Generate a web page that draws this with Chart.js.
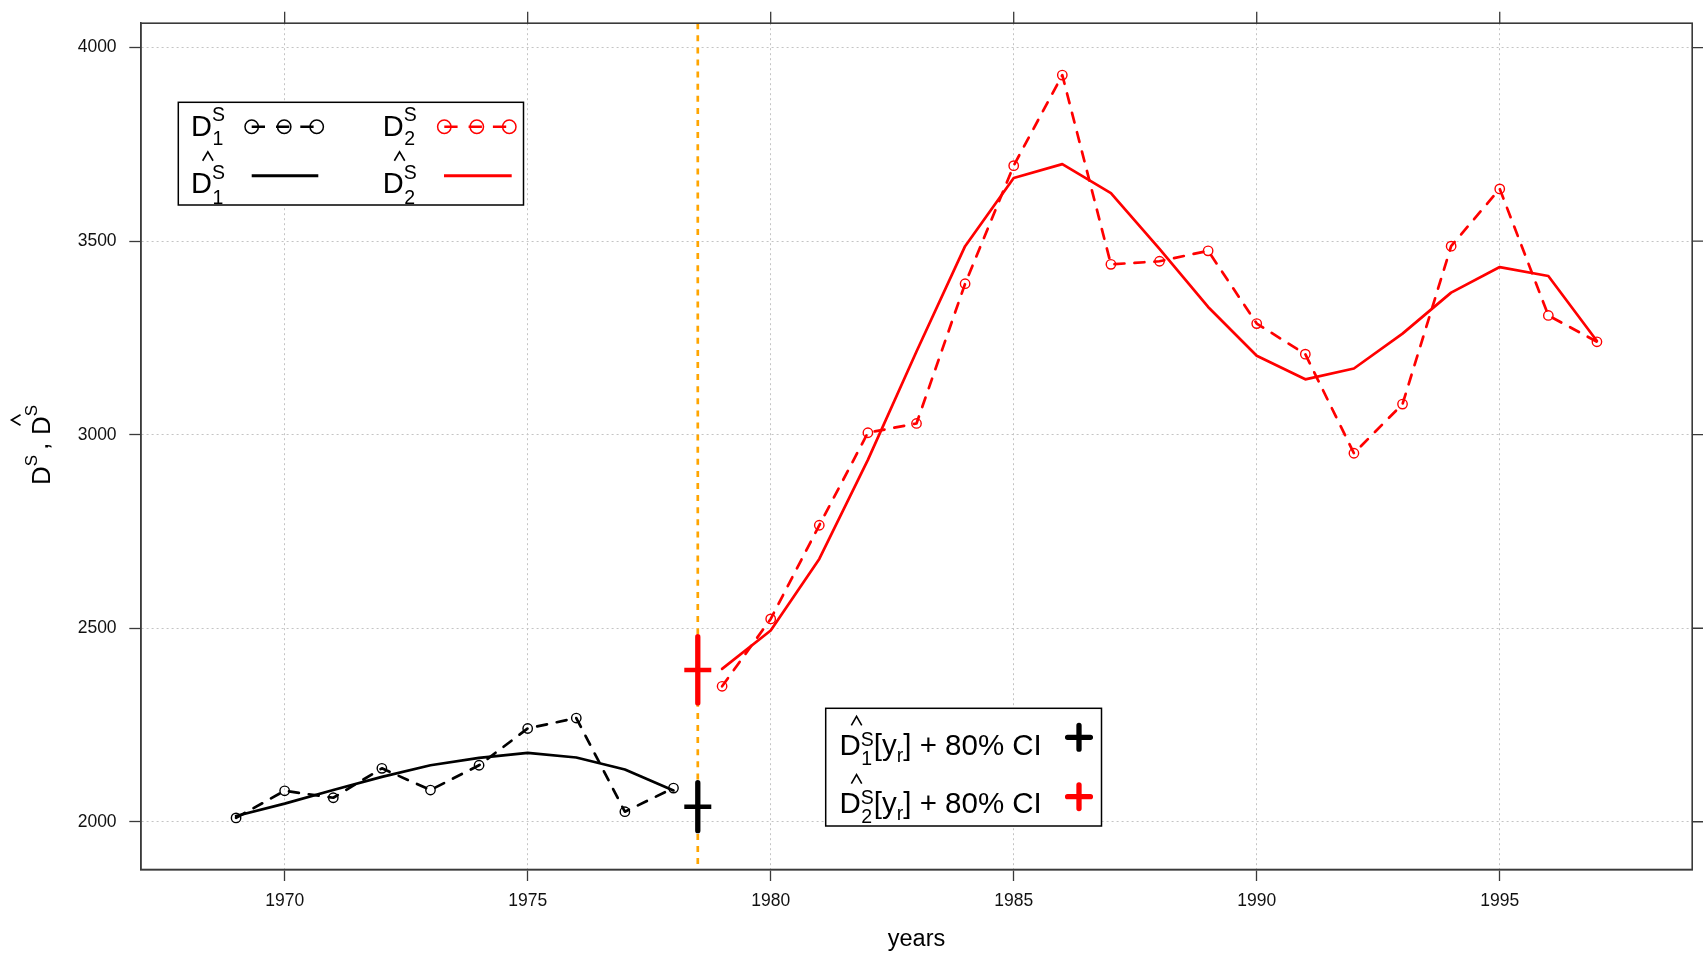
<!DOCTYPE html>
<html>
<head>
<meta charset="utf-8">
<script src="https://cdn.jsdelivr.net/npm/chart.js@4.4.1/dist/chart.umd.min.js"></script>
<style>
html,body{margin:0;padding:0;background:#fff;overflow:hidden}
canvas{display:block}
</style>
</head>
<body>
<canvas id="c" width="1703" height="954"></canvas>
<script>
// ---------- data ----------
const years1 = [1969, 1970, 1971, 1972, 1973, 1974, 1975, 1976, 1977, 1978];
const d1Obs  = [2010, 2080, 2062, 2138, 2082, 2146, 2241, 2268, 2026, 2087];
const d1Fit  = [2015, 2047, 2082, 2116, 2146, 2165, 2178, 2166, 2135, 2081];

const years2 = [1979, 1980, 1981, 1982, 1983, 1984, 1985, 1986, 1987, 1988,
                1989, 1990, 1991, 1992, 1993, 1994, 1995, 1996, 1997];
const d2Obs  = [2350, 2524, 2766, 3005, 3029, 3390, 3695, 3929, 3440, 3448,
                3475, 3287, 3208, 2952, 3079, 3487, 3635, 3308, 3240];
const d2Fit  = [2395, 2494, 2679, 2935, 3215, 3487, 3663, 3699, 3624, 3480,
                3330, 3204, 3143, 3171, 3261, 3367, 3433, 3410, 3242];

const ciYear = 1978.5;
const ci1 = [1977, 2039, 2101];   // lower, estimate, upper
const ci2 = [2307, 2392, 2478];

const xTicks = [1970, 1975, 1980, 1985, 1990, 1995];
const yTicks = [2000, 2500, 3000, 3500, 4000];
const xRange = [1967.04, 1998.96];
const yRange = [1876.7, 4063];

// ---------- styling ----------
const FONT = '"Liberation Sans", Arial, Helvetica, sans-serif';
const BORDER = '#3a3a3a';
const GRID = '#c4c4c4';
const TICK = 11.5;
const RED = '#ff0000';
const ORANGE = '#ffa500';

const pts = (xs, ys) => xs.map((x, i) => ({x: x, y: ys[i]}));

const obsStyle = (color) => ({
  borderColor: color, borderWidth: 2.7, borderDash: [10, 10],
  borderCapStyle: 'round', borderJoinStyle: 'round',
  pointStyle: 'circle', pointRadius: 4.7, pointBorderWidth: 1.4,
  pointBorderColor: color, pointBackgroundColor: 'rgba(0,0,0,0)',
  tension: 0, fill: false
});
const fitStyle = (color) => ({
  borderColor: color, borderWidth: 2.7, borderCapStyle: 'round',
  borderJoinStyle: 'round', pointRadius: 0, tension: 0, fill: false
});

// ---------- helpers for the math-like labels ----------
function hat(ctx, cx, bottom) {
  ctx.beginPath();
  ctx.moveTo(cx - 5.2, bottom);
  ctx.lineTo(cx, bottom - 9);
  ctx.lineTo(cx + 5.2, bottom);
  ctx.lineWidth = 1.6;
  ctx.lineJoin = 'miter';
  ctx.stroke();
}
function mathD(ctx, x, base, sub, o) {
  ctx.font = o.size + 'px ' + FONT;
  ctx.fillText('D', x, base);
  const wD = ctx.measureText('D').width;
  if (o.hat) hat(ctx, x + 0.8 * wD, base - 0.716 * o.size - o.hatGap);
  ctx.font = o.small + 'px ' + FONT;
  ctx.fillText('S', x + wD, base + o.supDy);
  ctx.fillText(sub, x + wD + 0.5, base + o.subDy);
  return x + wD + Math.max(ctx.measureText('S').width, ctx.measureText(sub).width + 0.5);
}
function cross(ctx, cx, cy, color) {
  ctx.beginPath();
  ctx.moveTo(cx - 11.4, cy); ctx.lineTo(cx + 11.4, cy);
  ctx.moveTo(cx, cy - 11.9); ctx.lineTo(cx, cy + 11.9);
  ctx.strokeStyle = color; ctx.lineWidth = 5.3; ctx.lineCap = 'round';
  ctx.stroke();
}

const decor = {
  id: 'decor',
  beforeDraw(chart) {
    const ctx = chart.ctx;
    ctx.save(); ctx.fillStyle = '#fff'; ctx.fillRect(0, 0, chart.width, chart.height); ctx.restore();
  },
  afterDraw(chart) {
    const ctx = chart.ctx, a = chart.chartArea, xs = chart.scales.x, ys = chart.scales.y;
    ctx.save();
    // plot frame
    ctx.strokeStyle = BORDER; ctx.lineWidth = 1.6;
    ctx.strokeRect(a.left, a.top, a.right - a.left, a.bottom - a.top);
    // top and right tick marks
    ctx.beginPath();
    xTicks.forEach(v => { const p = xs.getPixelForValue(v); ctx.moveTo(p, a.top); ctx.lineTo(p, a.top - TICK); });
    yTicks.forEach(v => { const p = ys.getPixelForValue(v); ctx.moveTo(a.right, p); ctx.lineTo(a.right + TICK, p); });
    ctx.lineWidth = 1.3; ctx.stroke();

    ctx.fillStyle = '#000'; ctx.strokeStyle = '#000';
    ctx.textBaseline = 'alphabetic'; ctx.textAlign = 'left';

    // x axis title
    ctx.font = '23.5px ' + FONT; ctx.textAlign = 'center';
    ctx.fillText('years', 916.5, 946);
    ctx.textAlign = 'left';

    // y axis title (rotated)
    ctx.save();
    ctx.translate(50, 485);
    ctx.rotate(-Math.PI / 2);
    ctx.font = '26px ' + FONT; ctx.fillText('D', 0, 0);
    ctx.font = '17px ' + FONT; ctx.fillText('S', 18.8, -13.3);
    ctx.font = '26px ' + FONT; ctx.fillText(',', 35, -2);
    ctx.fillText('D', 50, 0);
    ctx.font = '17px ' + FONT; ctx.fillText('S', 68.8, -13.3);
    ctx.strokeStyle = '#000';
    hat(ctx, 65, -29.5);
    ctx.restore();

    // ----- legend 1 -----
    ctx.fillStyle = '#fff';
    ctx.fillRect(178.3, 102.3, 345.2, 102.7);
    ctx.strokeStyle = '#000'; ctx.lineWidth = 1.5;
    ctx.strokeRect(178.3, 102.3, 345.2, 102.7);
    ctx.fillStyle = '#000';
    const o1 = {size: 29, small: 19.5, supDy: -15, subDy: 9.5, hat: false, hatGap: 0};
    const o2 = {size: 29, small: 19.5, supDy: -14, subDy: 11, hat: true, hatGap: 11};
    mathD(ctx, 191.1, 135.5, '1', o1);
    mathD(ctx, 382.8, 135.5, '2', o1);
    mathD(ctx, 191.1, 192.5, '1', o2);
    mathD(ctx, 382.8, 192.5, '2', o2);
    const legObs = (x0, color) => {
      ctx.save();
      ctx.strokeStyle = color; ctx.lineWidth = 2.5; ctx.lineCap = 'butt';
      ctx.setLineDash([13.3, 11]);
      ctx.beginPath(); ctx.moveTo(x0, 126.7); ctx.lineTo(x0 + 65, 126.7); ctx.stroke();
      ctx.setLineDash([]); ctx.lineWidth = 1.5;
      [0, 32.5, 65].forEach(d => { ctx.beginPath(); ctx.arc(x0 + d, 126.7, 6.7, 0, Math.PI * 2); ctx.stroke(); });
      ctx.restore();
    };
    legObs(251.7, '#000');
    legObs(444.3, RED);
    ctx.lineCap = 'butt'; ctx.lineWidth = 3;
    ctx.strokeStyle = '#000'; ctx.beginPath(); ctx.moveTo(251.7, 175.7); ctx.lineTo(318.3, 175.7); ctx.stroke();
    ctx.strokeStyle = RED; ctx.beginPath(); ctx.moveTo(444, 175.7); ctx.lineTo(511.7, 175.7); ctx.stroke();

    // ----- legend 2 -----
    ctx.fillStyle = '#fff';
    ctx.fillRect(825.7, 708.3, 275.8, 117.7);
    ctx.strokeStyle = '#000'; ctx.lineWidth = 1.5;
    ctx.strokeRect(825.7, 708.3, 275.8, 117.7);
    ctx.fillStyle = '#000';
    const o3 = {size: 29.5, small: 19.5, supDy: -9.3, subDy: 10, hat: true, hatGap: 8.5};
    const ciRow = (base, sub) => {
      let x = mathD(ctx, 839.5, base, sub, o3);
      ctx.font = '29.5px ' + FONT;
      ctx.fillText('[y', x, base); x += ctx.measureText('[y').width;
      ctx.font = '19.5px ' + FONT;
      ctx.fillText('r', x, base + 6.7); x += ctx.measureText('r').width;
      ctx.font = '29.5px ' + FONT;
      ctx.fillText('] + 80% CI', x, base);
    };
    ctx.strokeStyle = '#000';
    ciRow(755, '1');
    ciRow(813.3, '2');
    cross(ctx, 1079, 737.3, '#000');
    cross(ctx, 1079, 796.7, RED);
    ctx.restore();
  }
};

new Chart(document.getElementById('c'), {
  type: 'line',
  data: {
    datasets: [
      // CI crosses (drawn on top)
      {data: [{x: ciYear, y: ci1[1]}], showLine: false, pointStyle: 'line', pointRadius: 13.5,
       pointBorderWidth: 4.5, pointBorderColor: '#000', pointBackgroundColor: '#000'},
      {data: [{x: ciYear, y: ci1[0]}, {x: ciYear, y: ci1[2]}], borderColor: '#000', borderWidth: 5.3,
       borderCapStyle: 'round', pointRadius: 0},
      {data: [{x: ciYear, y: ci2[1]}], showLine: false, pointStyle: 'line', pointRadius: 13.5,
       pointBorderWidth: 4.5, pointBorderColor: RED, pointBackgroundColor: RED},
      {data: [{x: ciYear, y: ci2[0]}, {x: ciYear, y: ci2[2]}], borderColor: RED, borderWidth: 5.3,
       borderCapStyle: 'round', pointRadius: 0},
      // series
      Object.assign({data: pts(years1, d1Fit)}, fitStyle('#000')),
      Object.assign({data: pts(years1, d1Obs)}, obsStyle('#000')),
      Object.assign({data: pts(years2, d2Fit)}, fitStyle(RED)),
      Object.assign({data: pts(years2, d2Obs)}, obsStyle(RED)),
      // break year marker
      {data: [{x: ciYear, y: yRange[1]}, {x: ciYear, y: yRange[0]}], borderColor: ORANGE,
       borderWidth: 2.7, borderDash: [6, 6.1], pointRadius: 0}
    ]
  },
  options: {
    responsive: false,
    devicePixelRatio: 1,
    animation: false,
    events: [],
    layout: {autoPadding: false, padding: {top: 20.2, right: 10.8, left: 0, bottom: 0}},
    plugins: {legend: {display: false}, tooltip: {enabled: false}, title: {display: false}},
    scales: {
      x: {
        type: 'linear', min: xRange[0], max: xRange[1],
        afterBuildTicks: s => { s.ticks = xTicks.map(v => ({value: v})); },
        afterFit: s => { s.height = 84.5; },
        grid: {color: GRID, lineWidth: 1, drawTicks: true, tickLength: TICK,
               tickColor: BORDER, tickWidth: 1.3, tickBorderDash: []},
        border: {display: true, color: BORDER, width: 1.6, dash: [2, 3]},
        ticks: {font: {family: FONT, size: 17.5}, color: '#111', padding: 10,
                maxRotation: 0, autoSkip: false, callback: v => String(v)}
      },
      y: {
        type: 'linear', min: yRange[0], max: yRange[1],
        afterBuildTicks: s => { s.ticks = yTicks.map(v => ({value: v})); },
        afterFit: s => { s.width = 140.8; },
        grid: {color: GRID, lineWidth: 1, drawTicks: true, tickLength: TICK,
               tickColor: BORDER, tickWidth: 1.3, tickBorderDash: []},
        border: {display: true, color: BORDER, width: 1.6, dash: [2, 3]},
        ticks: {font: {family: FONT, size: 17.5}, color: '#111', padding: 12.7,
                autoSkip: false, callback: v => String(v)}
      }
    }
  },
  plugins: [decor]
});
</script>
</body>
</html>
